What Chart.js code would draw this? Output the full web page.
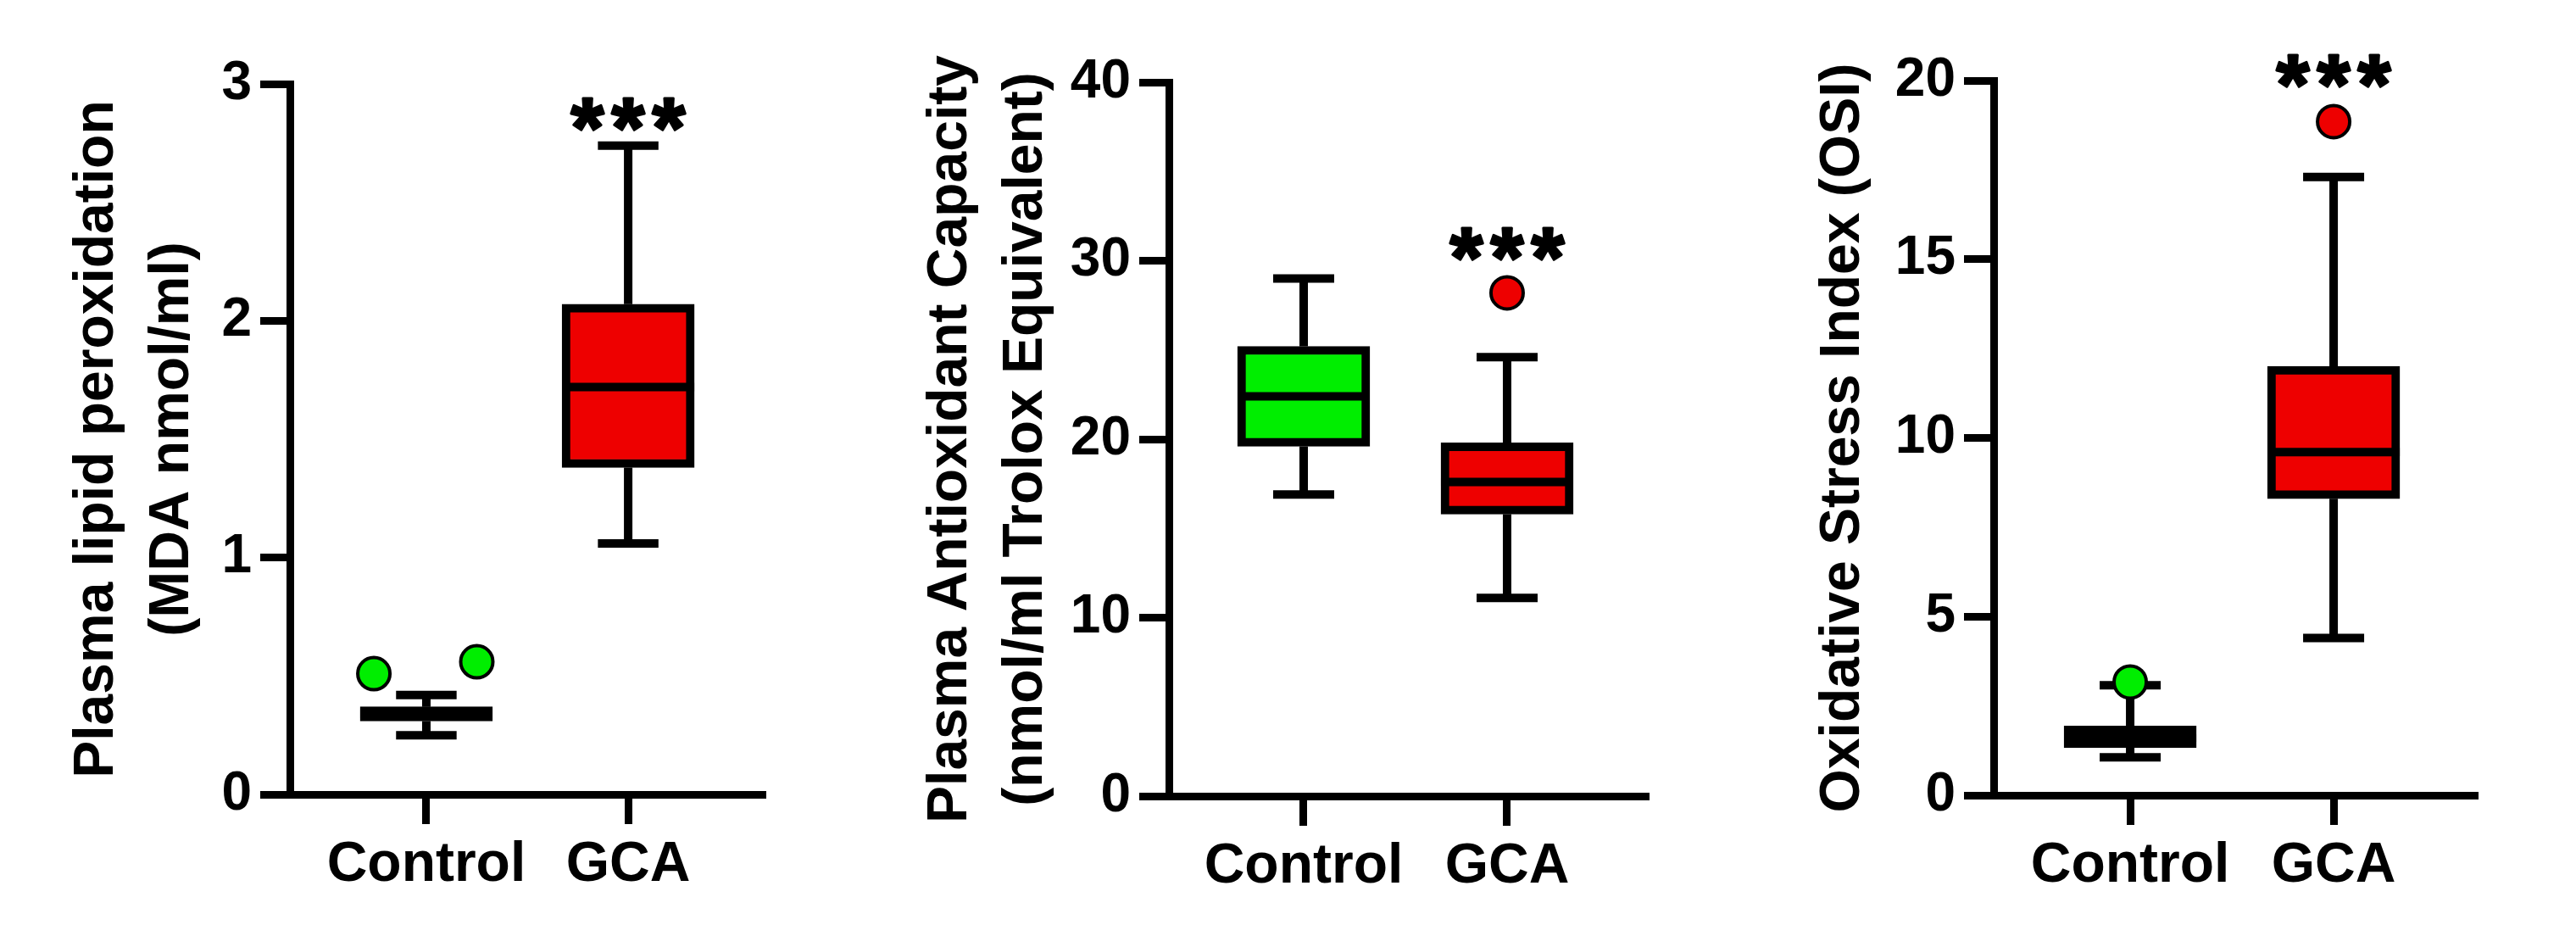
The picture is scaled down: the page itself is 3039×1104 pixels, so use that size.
<!DOCTYPE html>
<html>
<head>
<meta charset="utf-8">
<title>Oxidative stress markers: Control vs GCA</title>
<script src="https://cdn.jsdelivr.net/npm/chart.js@4.4.0/dist/chart.umd.min.js"></script>
<style>
    html, body { margin: 0; padding: 0; background: #fff; }
    #wrap { position: relative; width: 3039px; height: 1104px; overflow: hidden; }
    canvas { position: absolute; top: 0; }
</style>
</head>
<body>
<div id="wrap">
    <canvas id="chartMda" width="1000" height="1104" style="left:0px"></canvas>
    <canvas id="chartTac" width="1000" height="1104" style="left:1000px"></canvas>
    <canvas id="chartOsi" width="1039" height="1104" style="left:2000px"></canvas>
</div>
<script>
// Groups on the x axis
const groups = ['Control', 'GCA'];

// Box stats per group: [lower whisker, Q1, median, Q3, upper whisker]
const mdaControl = [0.25, 0.31, 0.34, 0.37, 0.42];
const mdaGCA = [1.06, 1.38, 1.72, 2.07, 2.74];
const mdaOutX = [0.74, 1.25];
const mdaOutY = [0.51, 0.56];

const tacControl = [16.9, 19.6, 22.4, 25.2, 29.0];
const tacGCA = [11.1, 15.8, 17.6, 19.8, 24.6];
const tacOutX = [2];
const tacOutY = [28.2];

const osiControl = [1.06, 1.33, 1.6, 1.94, 3.08];
const osiGCA = [4.4, 8.3, 9.6, 12.0, 17.3];
const osiOutX = [1, 2];
const osiOutY = [3.17, 18.85];

// Significance marks above each group
const sigMarks = ['', '***'];

const GREEN = '#00ee00';
const RED = '#ee0000';
const AXIS_LINE = 9;
const LINE = 10;
const BOX_WIDTH = 156;
const CAP_HALF = 0.15;
const STAR_SIZE = 100;
const STAR_GAP = 48;
const FONT = 'Arial, "Liberation Sans", Helvetica, sans-serif';

Chart.defaults.font.family = FONT;
Chart.defaults.color = '#000';

// Whiskers, caps, medians and stars, drawn through the chart scales
function boxPlugin(boxes, starValue) {
    return {
        id: 'boxWhiskers',
        beforeDatasetsDraw(chart) {
            const { ctx, scales: { x, y } } = chart;
            ctx.save();
            ctx.strokeStyle = '#000';
            ctx.lineWidth = LINE;
            boxes.forEach((b, i) => {
                const cx = x.getPixelForValue(i + 1);
                const capL = x.getPixelForValue(i + 1 - CAP_HALF);
                const capR = x.getPixelForValue(i + 1 + CAP_HALF);
                ctx.beginPath();
                ctx.moveTo(cx, y.getPixelForValue(b[1]));
                ctx.lineTo(cx, y.getPixelForValue(b[0]));
                ctx.moveTo(capL, y.getPixelForValue(b[0]));
                ctx.lineTo(capR, y.getPixelForValue(b[0]));
                ctx.moveTo(cx, y.getPixelForValue(b[3]));
                ctx.lineTo(cx, y.getPixelForValue(b[4]));
                ctx.moveTo(capL, y.getPixelForValue(b[4]));
                ctx.lineTo(capR, y.getPixelForValue(b[4]));
                ctx.stroke();
            });
            ctx.restore();
        },
        afterDatasetsDraw(chart) {
            const { ctx, scales: { x, y } } = chart;
            const bars = chart.getDatasetMeta(0).data;
            ctx.save();
            ctx.strokeStyle = '#000';
            ctx.lineWidth = LINE;
            boxes.forEach((b, i) => {
                const bar = bars[i];
                const ym = y.getPixelForValue(b[2]);
                ctx.beginPath();
                ctx.moveTo(bar.x - bar.width / 2, ym);
                ctx.lineTo(bar.x + bar.width / 2, ym);
                ctx.stroke();
            });
            // significance stars
            ctx.fillStyle = '#000';
            ctx.lineWidth = 3;
            ctx.lineJoin = 'round';
            ctx.font = 'bold ' + STAR_SIZE + 'px ' + FONT;
            ctx.textAlign = 'center';
            ctx.textBaseline = 'alphabetic';
            sigMarks.forEach((mark, i) => {
                if (!mark) return;
                const px = x.getPixelForValue(i + 1);
                const py = y.getPixelForValue(starValue) + 0.58 * STAR_SIZE;
                const chars = mark.split('');
                chars.forEach((c, k) => {
                    const cx = px + (k - (chars.length - 1) / 2) * STAR_GAP;
                    ctx.fillText(c, cx, py);
                    ctx.strokeText(c, cx, py);
                });
            });
            ctx.restore();
        }
    };
}

function drawBoxChart(canvasId, setup) {
    const ctx = document.getElementById(canvasId);
    const boxes = [setup.control, setup.gca];

    return new Chart(ctx, {
        type: 'bar',
        data: {
            datasets: [{
                type: 'bar',
                data: boxes.map((b, i) => ({ x: i + 1, y: [b[1], b[3]] })),
                backgroundColor: [GREEN, RED],
                borderColor: '#000',
                borderWidth: LINE,
                borderSkipped: false,
                barThickness: BOX_WIDTH
            }, {
                type: 'scatter',
                data: setup.outX.map((v, i) => ({ x: v, y: setup.outY[i] })),
                backgroundColor: setup.outX.map(v => v < 1.5 ? GREEN : RED),
                borderColor: '#000',
                borderWidth: 4,
                pointRadius: 19,
                pointHoverRadius: 19
            }]
        },
        options: {
            responsive: false,
            animation: false,
            events: [],
            layout: {
                padding: { left: 0, top: setup.top, right: setup.right, bottom: 0 }
            },
            plugins: {
                legend: { display: false },
                tooltip: { enabled: false }
            },
            scales: {
                x: {
                    type: 'linear',
                    min: setup.xMin,
                    max: setup.xMax,
                    offset: false,
                    afterBuildTicks: s => { s.ticks = groups.map((g, i) => ({ value: i + 1 })); },
                    afterFit: s => { s.height = setup.xHeight; },
                    ticks: {
                        callback: v => groups[Math.round(v) - 1],
                        autoSkip: false,
                        maxRotation: 0,
                        padding: 9,
                        color: '#000',
                        font: { size: 66, weight: 'bold' }
                    },
                    grid: {
                        offset: false,
                        drawOnChartArea: false,
                        tickLength: 35,
                        tickWidth: AXIS_LINE,
                        tickColor: '#000'
                    },
                    border: { display: true, width: AXIS_LINE, color: '#000' }
                },
                y: {
                    min: 0,
                    max: setup.yMax,
                    afterFit: s => { s.width = setup.yWidth; },
                    ticks: {
                        stepSize: setup.yStep,
                        padding: 10,
                        color: '#000',
                        font: { size: 64, weight: 'bold' }
                    },
                    grid: {
                        drawOnChartArea: false,
                        tickLength: 35,
                        tickWidth: AXIS_LINE,
                        tickColor: '#000'
                    },
                    border: { display: true, width: AXIS_LINE, color: '#000' },
                    title: {
                        display: true,
                        text: setup.title,
                        color: '#000',
                        font: { size: 66, weight: 'bold', lineHeight: 1.35 },
                        padding: { top: setup.titlePad, bottom: 0 }
                    }
                }
            }
        },
        plugins: [boxPlugin(boxes, setup.starValue)]
    });
}

drawBoxChart('chartMda', {
    control: mdaControl, gca: mdaGCA, outX: mdaOutX, outY: mdaOutY,
    title: ['Plasma lipid peroxidation', '(MDA nmol/ml)'],
    yMax: 3, yStep: 1, starValue: 2.9,
    xMin: 0.324, xMax: 2.68,
    top: 99, right: 97, yWidth: 342, xHeight: 167, titlePad: 70
});

drawBoxChart('chartTac', {
    control: tacControl, gca: tacGCA, outX: tacOutX, outY: tacOutY,
    title: ['Plasma Antioxidant Capacity', '(nmol/ml Trolox Equivalent)'],
    yMax: 40, yStep: 10, starValue: 31.3,
    xMin: 0.3375, xMax: 2.696,
    top: 97, right: 55, yWidth: 379, xHeight: 165, titlePad: 77
});

drawBoxChart('chartOsi', {
    control: osiControl, gca: osiGCA, outX: osiOutX, outY: osiOutY,
    title: 'Oxidative Stress Index (OSI)',
    yMax: 20, yStep: 5, starValue: 20.45,
    xMin: 0.329, xMax: 2.708,
    top: 95, right: 116, yWidth: 352, xHeight: 166, titlePad: 130
});
</script>
</body>
</html>
